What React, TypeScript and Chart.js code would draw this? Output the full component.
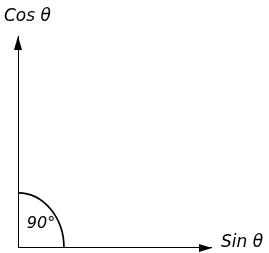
import React, { useEffect, useRef } from "react";
import { Chart, registerables } from "chart.js";

Chart.register(...registerables);

// Axis lines (data units)
const horizontalAxis = [
  { x: 0, y: 0 },
  { x: 97, y: 0 },
];
const verticalAxis = [
  { x: 0, y: 0 },
  { x: 0, y: 100 },
];
// Angle arc radii (data units) and label
const arcRadiusX = [23];
const arcRadiusY = [26];
const angleLabel = ["90°"];
const angleLabelPos = [{ x: 11.5, y: 11.5 }];
const axisLabels = ["Cos θ", "Sin θ"];

const diagramPlugin = {
  id: "diagram",
  afterDatasetsDraw(chart: any) {
    const ctx = chart.ctx as CanvasRenderingContext2D;
    const xs = chart.scales.x;
    const ys = chart.scales.y;
    const ox = xs.getPixelForValue(0);
    const oy = ys.getPixelForValue(0);
    ctx.save();
    ctx.strokeStyle = "#000";
    ctx.fillStyle = "#000";
    ctx.lineWidth = 1.7;
    // arc
    const rx = xs.getPixelForValue(arcRadiusX[0]) - ox;
    const ry = oy - ys.getPixelForValue(arcRadiusY[0]);
    ctx.beginPath();
    ctx.ellipse(ox, oy, rx, ry, 0, -Math.PI / 2, 0);
    ctx.stroke();
    // arrowheads
    const hx = xs.getPixelForValue(horizontalAxis[1].x);
    ctx.beginPath();
    ctx.moveTo(hx, oy);
    ctx.lineTo(hx - 13, oy - 4);
    ctx.lineTo(hx - 13, oy + 4);
    ctx.closePath();
    ctx.fill();
    const vy = ys.getPixelForValue(verticalAxis[1].y);
    ctx.beginPath();
    ctx.moveTo(ox, vy);
    ctx.lineTo(ox - 4, vy + 14);
    ctx.lineTo(ox + 4, vy + 14);
    ctx.closePath();
    ctx.fill();
    // labels
    ctx.font = "italic 17px 'DejaVu Sans', 'Liberation Sans', sans-serif";
    ctx.textBaseline = "middle";
    ctx.textAlign = "left";
    ctx.fillText(axisLabels[0], ox - 14, vy - 19);
    ctx.fillText(axisLabels[1], hx + 9, oy - 5);
    ctx.font = "italic 16px 'DejaVu Sans', 'Liberation Sans', sans-serif";
    ctx.textAlign = "center";
    ctx.fillText(
      angleLabel[0],
      xs.getPixelForValue(angleLabelPos[0].x),
      ys.getPixelForValue(angleLabelPos[0].y)
    );
    ctx.restore();
  },
};

export default function App() {
  const ref = useRef<HTMLCanvasElement>(null);
  useEffect(() => {
    if (!ref.current) return;
    const chart = new Chart(ref.current, {
      type: "scatter",
      data: {
        datasets: [
          {
            data: horizontalAxis,
            showLine: true,
            borderColor: "#000",
            borderWidth: 2,
            pointRadius: 0,
          },
          {
            data: verticalAxis,
            showLine: true,
            borderColor: "#000",
            borderWidth: 2,
            pointRadius: 0,
          },
        ],
      },
      options: {
        responsive: false,
        animation: false,
        layout: { padding: { left: 18, right: 51, top: 36, bottom: 5 } },
        plugins: {
          legend: { display: false },
          tooltip: { enabled: false },
        },
        scales: {
          x: { type: "linear", min: 0, max: 100, display: false },
          y: { type: "linear", min: 0, max: 100, display: false },
        },
      },
      plugins: [diagramPlugin],
    });
    return () => chart.destroy();
  }, []);
  return (
    <div style={{ position: "fixed", left: 0, top: 0, width: 269, height: 253, background: "#fff" }}>
      <canvas ref={ref} width={269} height={253} />
    </div>
  );
}
